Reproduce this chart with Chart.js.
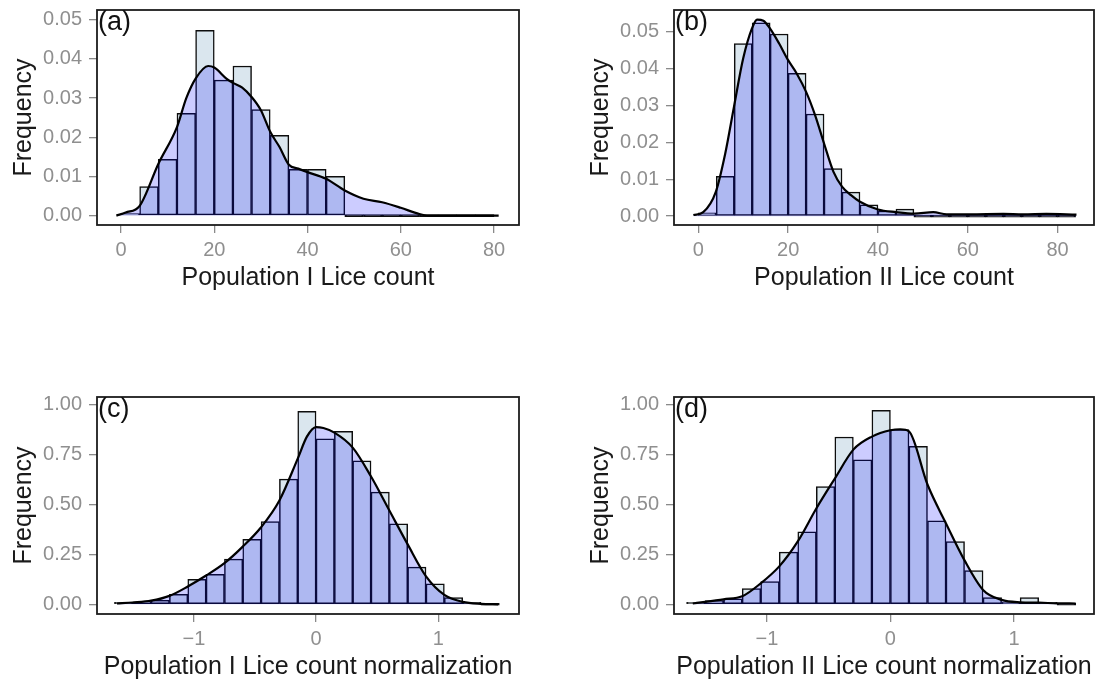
<!DOCTYPE html>
<html>
<head>
<meta charset="utf-8">
<title>Lice count histograms</title>
<script src="https://cdn.jsdelivr.net/npm/chart.js@4.4.1/dist/chart.umd.min.js"></script>
<style>
  html, body { margin: 0; padding: 0; background: #fff; }
  body { width: 1109px; height: 681px; position: relative; overflow: hidden; }
  canvas { position: absolute; }
</style>
</head>
<body>
<canvas id="panel-a"></canvas>
<canvas id="panel-b"></canvas>
<canvas id="panel-c"></canvas>
<canvas id="panel-d"></canvas>
<script>
// ============================================================
// DATA
// ============================================================

// Population I, raw counts (bin width 4, empty bins kept so they show as a baseline)
const popIBins = [2, 6, 10, 14, 18, 22, 26, 30, 34, 38, 42, 46, 50, 54, 58, 62, 66, 70, 74, 78];
const popIFreq = [0.0005, 0.0074, 0.0144, 0.0261, 0.0473, 0.0346, 0.0382, 0.0271, 0.0205, 0.0118, 0.0118, 0.0100, 0, 0, 0, 0, 0, 0, 0, 0];
const popIDensX = [-1, 1, 4, 8, 12, 14, 16, 18.7, 20, 22.6, 24, 26, 28, 30, 32, 34, 36, 38, 40, 44, 48, 52, 56, 60, 64, 66, 72, 81];
const popIDensY = [0, 0.0008, 0.0025, 0.0132, 0.0226, 0.0300, 0.0350, 0.0382, 0.0378, 0.0350, 0.0339, 0.0327, 0.0303, 0.0269, 0.0214, 0.0175, 0.0130, 0.0120, 0.0111, 0.0094, 0.0064, 0.0043, 0.0034, 0.0020, 0.0004, 0, 0, 0];

// Population II, raw counts (bin width 4)
const popIIBins = [2, 6, 10, 14, 18, 22, 26, 30, 34, 38, 42, 46, 50, 54, 58, 62, 66, 70, 74, 78, 82];
const popIIFreq = [0.0009, 0.0108, 0.0468, 0.0524, 0.0494, 0.0387, 0.0277, 0.0129, 0.0065, 0.0031, 0.0014, 0.0019, 0, 0, 0, 0, 0, 0, 0, 0, 0];
const popIIDensX = [-1.1, 1.1, 3.9, 6, 7.95, 10, 11.95, 13.1, 14.5, 15.95, 18, 20, 21.9, 24, 26, 28, 30.1, 32, 34, 36, 40, 44, 48.1, 52.3, 55.3, 60.5, 67.9, 72.3, 77.5, 84.2];
const popIIDensY = [0.0003, 0.0011, 0.0066, 0.0170, 0.0297, 0.0428, 0.0509, 0.0533, 0.0530, 0.0509, 0.0468, 0.0423, 0.0387, 0.0337, 0.0274, 0.0197, 0.0120, 0.0080, 0.0057, 0.0039, 0.0018, 0.0011, 0.0007, 0.0011, 0.0005, 0.0005, 0.0006, 0.0005, 0.0006, 0.0004];

// Normalized counts (bin width 0.15)
const normBins = [-1.575, -1.425, -1.275, -1.125, -0.975, -0.825, -0.675, -0.525, -0.375, -0.225, -0.075, 0.075, 0.225, 0.375, 0.525, 0.675, 0.825, 0.975, 1.125, 1.275, 1.425];
const popINormFreq = [0.008, 0.012, 0.020, 0.050, 0.125, 0.150, 0.226, 0.326, 0.415, 0.627, 0.967, 0.829, 0.866, 0.719, 0.562, 0.403, 0.186, 0.102, 0.033, 0.008, 0];
const popINormDensX = [-1.63, -1.5, -1.35, -1.2, -1.05, -0.9, -0.75, -0.6, -0.45, -0.3, -0.15, -0.075, 0, 0.06, 0.15, 0.3, 0.45, 0.6, 0.75, 0.9, 1.05, 1.2, 1.35, 1.49];
const popINormDensY = [0.004, 0.009, 0.018, 0.042, 0.089, 0.144, 0.206, 0.289, 0.386, 0.520, 0.730, 0.840, 0.888, 0.883, 0.860, 0.785, 0.640, 0.470, 0.300, 0.140, 0.047, 0.012, 0.002, 0];

const popIINormFreq = [0.005, 0.018, 0.027, 0.079, 0.114, 0.261, 0.363, 0.590, 0.838, 0.724, 0.972, 0.875, 0.791, 0.418, 0.314, 0.169, 0.033, 0.005, 0.033, 0.010, 0];
const popIINormDensX = [-1.6, -1.5, -1.35, -1.2, -1.05, -0.9, -0.75, -0.6, -0.45, -0.3, -0.15, 0, 0.08, 0.15, 0.3, 0.45, 0.6, 0.75, 0.9, 1.05, 1.2, 1.35, 1.5];
const popIINormDensY = [0.004, 0.012, 0.025, 0.040, 0.105, 0.190, 0.315, 0.480, 0.630, 0.775, 0.840, 0.872, 0.877, 0.866, 0.600, 0.405, 0.220, 0.072, 0.022, 0.010, 0.008, 0.005, 0.004];

// Axis ticks
const countTicksX = [0, 20, 40, 60, 80];
const countTicksY = [0, 0.01, 0.02, 0.03, 0.04, 0.05];
const normTicksX = [-1, 0, 1];
const normTicksY = [0, 0.25, 0.5, 0.75, 1];

// ============================================================
// STYLE
// ============================================================

const FONT = "'Liberation Sans', Arial, Helvetica, sans-serif";
const BAR_FILL = '#dae6ee';
const BAR_EDGE = '#0d0d0d';
const DENS_FILL = 'rgba(0, 0, 255, 0.2)';
const Y_AXIS_W = 97;
const X_AXIS_H = 76;
const PAD_TOP = 30;
const PAD_RIGHT = 15;

// black frame round the plot area + the (a)/(b)... tag
const frameAndTag = {
  id: 'frameAndTag',
  afterDatasetsDraw(chart, args, opts) {
    const { ctx, chartArea: a } = chart;
    ctx.save();
    ctx.strokeStyle = '#1c1c1c';
    ctx.lineWidth = 1.8;
    ctx.strokeRect(a.left, a.top, a.right - a.left, a.bottom - a.top);
    ctx.fillStyle = '#111';
    ctx.font = `27px ${FONT}`;
    ctx.textBaseline = 'alphabetic';
    ctx.textAlign = 'left';
    ctx.fillText(opts.text, a.left + 1, a.top + 20);
    ctx.restore();
  }
};

function fmtMinus(v) {
  return v < 0 ? '\u2212' + Math.abs(v) : String(v);
}

// ============================================================
// PANELS
// ============================================================

function buildPanel(id, p) {
  const canvas = document.getElementById(id);
  const w = p.box[2] - p.box[0] + Y_AXIS_W + PAD_RIGHT;
  const h = p.box[3] - p.box[1] + PAD_TOP + X_AXIS_H;
  canvas.width = w;
  canvas.height = h;
  canvas.style.width = w + 'px';
  canvas.style.height = h + 'px';
  canvas.style.left = (p.box[0] - Y_AXIS_W) + 'px';
  canvas.style.top = (p.box[1] - PAD_TOP) + 'px';

  const tickMarks = {
    display: true,
    drawOnChartArea: false,
    drawTicks: true,
    tickLength: 8,
    offset: false,
    color: '#8a8a8a',
    lineWidth: 1.3
  };

  new Chart(canvas.getContext('2d'), {
    type: 'bar',
    data: {
      datasets: [
        {
          type: 'line',
          data: p.densX.map((x, i) => ({ x, y: p.densY[i] })),
          borderColor: '#000',
          borderWidth: 2.2,
          backgroundColor: DENS_FILL,
          fill: 'origin',
          pointRadius: 0,
          cubicInterpolationMode: 'monotone',
          order: 0
        },
        {
          type: 'bar',
          data: p.bins.map((x, i) => ({ x, y: p.freq[i] })),
          // empty bins collapse to a solid outline on the baseline
          backgroundColor: c => (c.raw && c.raw.y === 0 ? BAR_EDGE : BAR_FILL),
          borderColor: BAR_EDGE,
          borderWidth: 1.5,
          borderSkipped: false,
          minBarLength: 2,
          barPercentage: 1,
          categoryPercentage: 1,
          order: 1
        }
      ]
    },
    options: {
      responsive: false,
      animation: false,
      devicePixelRatio: 1,
      events: [],
      layout: { padding: { left: 0, top: PAD_TOP, right: PAD_RIGHT, bottom: 0 } },
      plugins: {
        legend: { display: false },
        tooltip: { enabled: false },
        frameAndTag: { text: p.tag }
      },
      scales: {
        x: {
          type: 'linear',
          min: p.xRange[0],
          max: p.xRange[1],
          offset: false,
          grid: tickMarks,
          border: { display: false },
          afterBuildTicks: s => { s.ticks = p.ticksX.map(v => ({ value: v })); },
          afterFit: s => { s.height = X_AXIS_H; },
          ticks: {
            color: '#8f8f8f',
            font: { family: FONT, size: 20 },
            padding: 5,
            maxRotation: 0,
            autoSkip: false,
            callback: v => fmtMinus(v)
          },
          title: {
            display: true,
            text: p.xTitle,
            color: '#1a1a1a',
            font: { family: FONT, size: 25 },
            padding: { top: 0, bottom: 8 }
          }
        },
        y: {
          type: 'linear',
          min: p.yRange[0],
          max: p.yRange[1],
          grid: tickMarks,
          border: { display: false },
          afterBuildTicks: s => { s.ticks = p.ticksY.map(v => ({ value: v })); },
          afterFit: s => { s.width = Y_AXIS_W; },
          ticks: {
            color: '#8f8f8f',
            font: { family: FONT, size: 20 },
            padding: 7,
            autoSkip: false,
            callback: v => v.toFixed(2)
          },
          title: {
            display: true,
            text: 'Frequency',
            color: '#1a1a1a',
            font: { family: FONT, size: 25 },
            padding: { top: 9, bottom: 0 }
          }
        }
      }
    },
    plugins: [frameAndTag]
  });
}

buildPanel('panel-a', {
  tag: '(a)', box: [97, 10, 519, 225],
  bins: popIBins, freq: popIFreq, densX: popIDensX, densY: popIDensY,
  xRange: [-5.15, 85.36], yRange: [-0.0024, 0.0525],
  ticksX: countTicksX, ticksY: countTicksY,
  xTitle: 'Population I Lice count'
});

buildPanel('panel-b', {
  tag: '(b)', box: [674, 10, 1094, 225],
  bins: popIIBins, freq: popIIFreq, densX: popIIDensX, densY: popIIDensY,
  xRange: [-5.41, 88.1], yRange: [-0.0024, 0.0559],
  ticksX: countTicksX, ticksY: countTicksY,
  xTitle: 'Population II Lice count'
});

buildPanel('panel-c', {
  tag: '(c)', box: [97, 397, 519, 614],
  bins: normBins, freq: popINormFreq, densX: popINormDensX, densY: popINormDensY,
  xRange: [-1.793, 1.661], yRange: [-0.0487, 1.0386],
  ticksX: normTicksX, ticksY: normTicksY,
  xTitle: 'Population I Lice count normalization'
});

buildPanel('panel-d', {
  tag: '(d)', box: [674, 397, 1094, 614],
  bins: normBins, freq: popIINormFreq, densX: popIINormDensX, densY: popIINormDensY,
  xRange: [-1.752, 1.648], yRange: [-0.0487, 1.0386],
  ticksX: normTicksX, ticksY: normTicksY,
  xTitle: 'Population II Lice count normalization'
});
</script>
</body>
</html>
